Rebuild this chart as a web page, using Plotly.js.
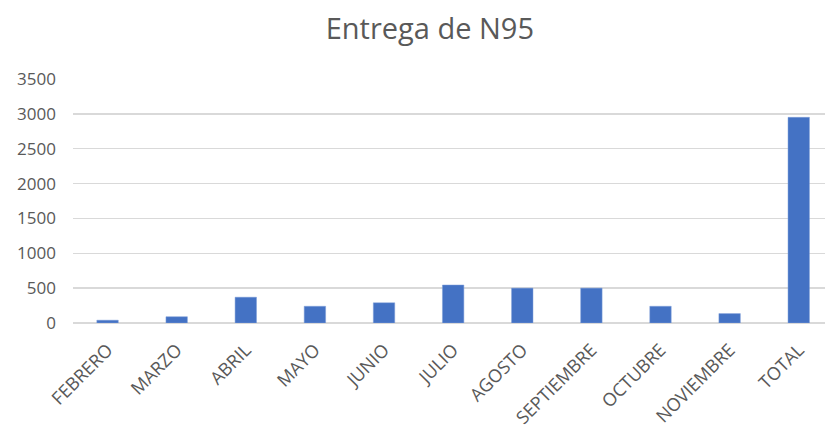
<!DOCTYPE html>
<html>
<head>
<meta charset="utf-8">
<script src="https://cdn.plot.ly/plotly-3.0.1.min.js"></script>
<style>html,body{margin:0;padding:0;background:#fff;}#chart{width:825px;height:430px;}</style>
</head>
<body>
<div id="chart"></div>
<script>
const months = ["FEBRERO","MARZO","ABRIL","MAYO","JUNIO","JULIO","AGOSTO","SEPTIEMBRE","OCTUBRE","NOVIEMBRE","TOTAL"];
const entregas = [40, 90, 370, 240, 290, 545, 500, 500, 240, 135, 2950];
const yTicks = [0, 500, 1000, 1500, 2000, 2500, 3000, 3500];
const chartTitle = "Entrega de N95";

const font = "'Open Sans', 'Noto Sans', sans-serif";
const grey = "#595959";

Plotly.newPlot("chart", [{
  type: "bar",
  x: months,
  y: entregas,
  marker: {color: "#4472C4", line: {color: "#7f9fd8", width: 0.5}},
  hoverinfo: "x+y"
}], {
  width: 825, height: 430,
  paper_bgcolor: "#fff", plot_bgcolor: "#fff",
  margin: {l: 73, r: 0, t: 79, b: 107},
  bargap: 0.69,
  showlegend: false,
  title: {text: chartTitle, font: {family: font, size: 29, color: grey},
          x: 0.521, xref: "container", xanchor: "center",
          y: 0.932, yref: "container", yanchor: "middle"},
  xaxis: {
    type: "category",
    range: [-0.5, 10.38],
    tickangle: -45,
    tickfont: {family: font, size: 18, color: grey},
    showgrid: false, zeroline: false, showline: false, ticks: "",
    ticklabelstandoff: 12,
    fixedrange: true
  },
  yaxis: {
    range: [0, 3500],
    tickvals: yTicks,
    ticktext: yTicks.map(String),
    tickfont: {family: font, size: 17, color: grey},
    showgrid: true, gridcolor: "#d9d9d9", gridwidth: 1.5,
    zeroline: true, zerolinecolor: "#d9d9d9", zerolinewidth: 1.5,
    showline: false, ticks: "",
    ticklabelstandoff: 16,
    fixedrange: true
  }
}, {displayModeBar: false, staticPlot: true});
</script>
</body>
</html>
